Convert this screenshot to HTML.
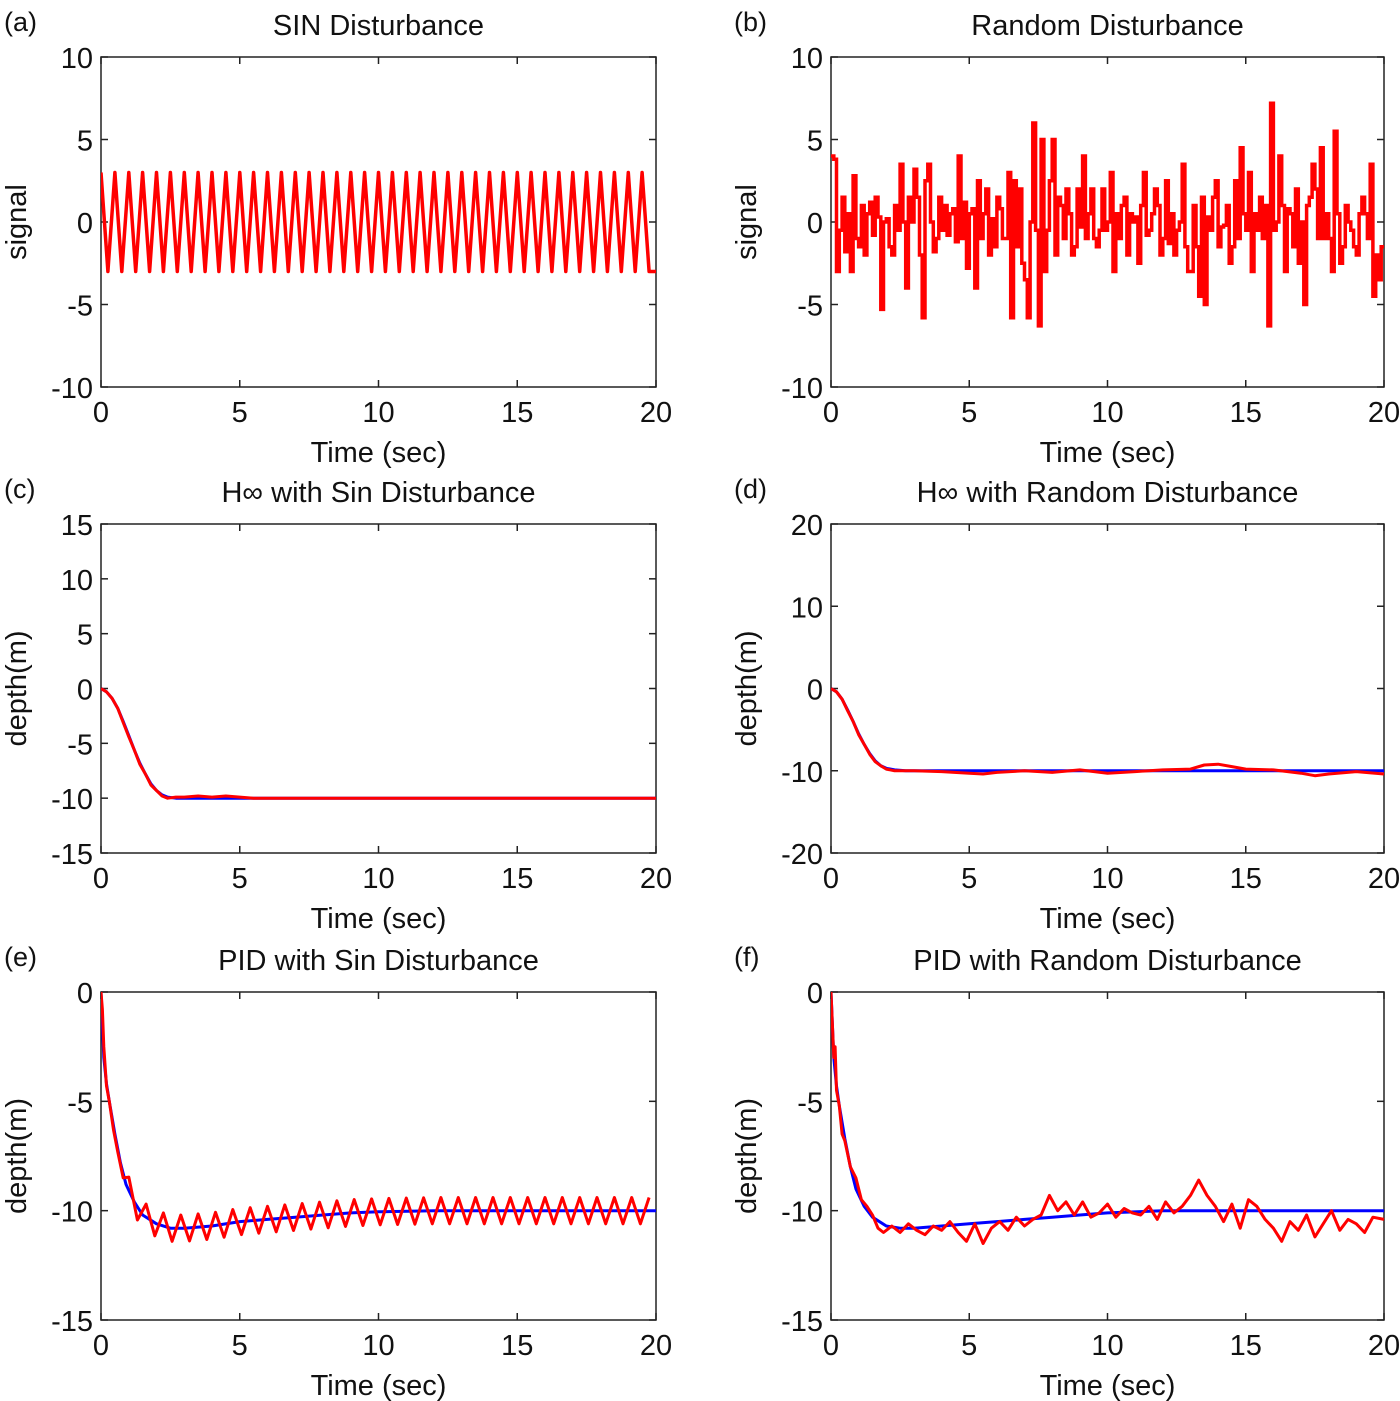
<!DOCTYPE html>
<html><head><meta charset="utf-8"><style>
html,body{margin:0;padding:0;background:#fff;}
svg{display:block;font-family:"Liberation Sans",Arial,sans-serif;}
</style></head><body>
<svg id="fig" width="1400" height="1401" viewBox="0 0 1400 1401"></svg>
<script>
// ---------- data ----------
const xTicks = [0,5,10,15,20];
const sinT = [0,0.25,0.5,0.75,1,1.25,1.5,1.75,2,2.25,2.5,2.75,3,3.25,3.5,3.75,4,4.25,4.5,4.75,5,5.25,5.5,5.75,6,6.25,6.5,6.75,7,7.25,7.5,7.75,8,8.25,8.5,8.75,9,9.25,9.5,9.75,10,10.25,10.5,10.75,11,11.25,11.5,11.75,12,12.25,12.5,12.75,13,13.25,13.5,13.75,14,14.25,14.5,14.75,15,15.25,15.5,15.75,16,16.25,16.5,16.75,17,17.25,17.5,17.75,18,18.25,18.5,18.75,19,19.25,19.5,19.75,20];
const sinV = [3,-3,3,-3,3,-3,3,-3,3,-3,3,-3,3,-3,3,-3,3,-3,3,-3,3,-3,3,-3,3,-3,3,-3,3,-3,3,-3,3,-3,3,-3,3,-3,3,-3,3,-3,3,-3,3,-3,3,-3,3,-3,3,-3,3,-3,3,-3,3,-3,3,-3,3,-3,3,-3,3,-3,3,-3,3,-3,3,-3,3,-3,3,-3,3,-3,3,-3,-3];
const randV = [
 4,3.8,-3,-0.5,1.5,-1.8,0.5,-3,2.8,-1,-1.5,1,-2,0.5,1.2,-0.8,1.5,0.3,-5.3,0,
 0.2,-1.5,-2,1,-0.5,3.5,0,-4,1.5,0,3.2,1.5,-2,-5.8,2.5,3.5,0,-1.8,-1,1.5,
 -0.5,1,-0.8,0.5,0.8,-1.2,4,-1,1.2,-2.8,0.5,0.8,-4,2.5,-1,0.5,2,-2,0.2,-1.5,
 1.5,0.8,-1,-1,3,-5.8,2.5,-1.5,2,-2.5,-3.5,-5.8,0,6,-0.5,-6.3,5,-3,-0.5,2.5,
 5,-2,1.5,1,-1,2,0.5,-2,-1.5,2,-0.3,4,-1,0.5,2,-1,-1.5,-0.5,2,-0.5,
 0,3,-3,0.5,-1,1,1.5,-2,0.5,0,0.3,-2.5,1,3,-0.8,-0.5,0.5,2,1,-2,
 -1,2.5,-1.3,0.5,-2,-0.5,0,3.5,-1.5,-3,-3,1,-1.5,-4.5,1.5,-5,0.3,-0.5,1.5,2.5,
 -1.5,-0.3,-0.2,1,-2.5,-1.5,2.5,-1,4.5,0.5,-0.5,3,-3,0.5,-0.5,1.5,-1,1,-6.3,7.2,
 -0.5,0,4,1,-3,0.8,0.5,-1.5,2,-2.5,0,-5,1,1.5,3.5,2,-1,4.5,-1,0.5,
 -1,-3,5.5,0.5,-2.5,-1.5,1,0,-0.5,-1.5,-2,0.5,1.5,0.5,-1,3.5,-4.5,-2,-3.5,-1.5
];
const hsT = [0,0.2,0.4,0.6,0.8,1.0,1.2,1.4,1.6,1.8,2.0,2.2,2.4,2.7,3,20];
const hsBlue = [0,-0.3,-0.9,-1.8,-3,-4.3,-5.6,-6.8,-7.8,-8.7,-9.3,-9.7,-9.9,-10,-10,-10];
const hsRedT = [0,0.2,0.4,0.6,0.8,1.0,1.2,1.4,1.6,1.8,2.0,2.2,2.4,2.7,3,3.5,4,4.5,5,5.5,20];
const hsRed = [0,-0.3,-0.9,-1.8,-3.1,-4.4,-5.6,-6.9,-7.8,-8.8,-9.3,-9.8,-10,-9.9,-9.9,-9.8,-9.9,-9.8,-9.9,-10,-10];
const hrT = [0,0.2,0.4,0.6,0.8,1.0,1.2,1.4,1.6,1.8,2.0,2.3,2.7,3,20];
const hrBlue = [0,-0.4,-1.3,-2.6,-4,-5.5,-6.8,-7.9,-8.8,-9.4,-9.7,-9.9,-10,-10,-10];
const hrRedT = [0,0.2,0.4,0.6,0.8,1.0,1.2,1.4,1.6,1.8,2.0,2.3,2.7,3,4,5,5.5,6,7,8,9,10,11,12,13,13.5,14,14.5,15,16,17,17.5,18,19,20];
const hrRed = [0,-0.4,-1.3,-2.7,-4,-5.6,-6.8,-8,-8.9,-9.4,-9.8,-10,-10,-10,-10.1,-10.3,-10.4,-10.2,-10,-10.2,-9.9,-10.3,-10.1,-9.9,-9.8,-9.3,-9.2,-9.5,-9.8,-9.9,-10.3,-10.6,-10.4,-10.1,-10.4];
const psT = [0,0.1,0.2,0.3,0.5,0.7,0.9,1.2,1.5,2,2.5,3,4,5,6,7,8,9,10,12,15,20];
const psBlue = [0,-3,-4.2,-5,-6.5,-7.8,-8.8,-9.6,-10.2,-10.6,-10.8,-10.8,-10.7,-10.5,-10.4,-10.3,-10.2,-10.1,-10.05,-10,-10,-10];
const psOsc = [0.6,-0.6,0.6,-0.6,0.6,-0.6,0.6,-0.6,0.6,-0.6,0.6,-0.6,0.6,-0.6,0.6,-0.6,0.6,-0.6,0.6,-0.6,0.6,-0.6,0.6,-0.6,0.6,-0.6,0.6,-0.6,0.6,-0.6,0.6,-0.6,0.6,-0.6,0.6,-0.6,0.6,-0.6,0.6,-0.6,0.6,-0.6,0.6,-0.6,0.6,-0.6,0.6,-0.6,0.6,-0.6,0.6,-0.6,0.6,-0.6,0.6,-0.6,0.6,-0.6,0.6,-0.6,0.6,-0.6,0.6,-0.6];
const prT = [0,0.1,0.2,0.3,0.5,0.7,0.9,1.2,1.5,2,2.5,3,4,5,6,7,8,9,10,12,15,20];
const prBlue = [0,-3,-4.3,-5.2,-6.7,-8,-9,-9.8,-10.3,-10.7,-10.8,-10.8,-10.7,-10.6,-10.5,-10.4,-10.3,-10.2,-10.1,-10,-10,-10];
const prRedT = [0,0.05,0.1,0.15,0.2,0.3,0.4,0.5,0.7,0.9,1.1,1.3,1.5,1.7,1.9,2.2,2.5,2.8,3.1,3.4,3.7,4,4.3,4.6,4.9,5.2,5.5,5.8,6.1,6.4,6.7,7,7.3,7.6,7.9,8.2,8.5,8.8,9.1,9.4,9.7,10,10.3,10.6,10.9,11.2,11.5,11.8,12.1,12.4,12.7,13,13.3,13.6,13.9,14.2,14.5,14.8,15.1,15.4,15.7,16,16.3,16.6,16.9,17.2,17.5,17.8,18.1,18.4,18.7,19,19.3,19.6,20];
const prRed = [0,-1.5,-3,-2.5,-4.5,-5.2,-6.5,-6.8,-8,-8.5,-9.5,-9.8,-10.2,-10.8,-11,-10.7,-11,-10.6,-10.9,-11.1,-10.7,-10.9,-10.5,-11,-11.4,-10.6,-11.5,-10.8,-10.5,-10.9,-10.3,-10.7,-10.4,-10.2,-9.3,-10,-9.6,-10.2,-9.6,-10.3,-10.1,-9.7,-10.3,-9.9,-10.1,-10.2,-9.8,-10.4,-9.6,-10.1,-9.8,-9.3,-8.6,-9.3,-9.8,-10.5,-9.7,-10.8,-9.5,-9.8,-10.4,-10.8,-11.4,-10.5,-10.9,-10.2,-11.2,-10.6,-10,-10.9,-10.4,-10.6,-11,-10.3,-10.4];

// ---------- drawing ----------
const NS = "http://www.w3.org/2000/svg";
const fig = document.getElementById('fig');
function el(tag, attrs, parent){ const e=document.createElementNS(NS,tag); for(const k in attrs) e.setAttribute(k,attrs[k]); (parent||fig).appendChild(e); return e; }

function makeAxes(id, x0, x1, y0, y1, ymin, ymax, yTicks, title, ylabel, letter, lx){
  const g = el('g',{});
  
  
  const sx = v => x0 + (v-0)/(20-0)*(x1-x0);
  const sy = v => y1 - (v-ymin)/(ymax-ymin)*(y1-y0);
  const frame = el('rect',{x:x0,y:y0,width:x1-x0,height:y1-y0,fill:'#fff',stroke:'#222','stroke-width':1.5},g);
  
  
  xTicks.forEach(t=>{
    const X=sx(t);
    el('line',{x1:X,x2:X,y1:y1,y2:y1-7,stroke:'#222','stroke-width':1.5},g);
    el('line',{x1:X,x2:X,y1:y0,y2:y0+7,stroke:'#222','stroke-width':1.5},g);
    const tx=el('text',{x:X,y:y1+35,'font-size':29,'text-anchor':'middle',fill:'#111'},g);
    tx.textContent=t;
    
    
  });
  yTicks.forEach(t=>{
    const Y=sy(t);
    el('line',{x1:x0,x2:x0+7,y1:Y,y2:Y,stroke:'#222','stroke-width':1.5},g);
    el('line',{x1:x1,x2:x1-7,y1:Y,y2:Y,stroke:'#222','stroke-width':1.5},g);
    const tx=el('text',{x:x0-8,y:Y+11,'font-size':29,'text-anchor':'end',fill:'#111'},g);
    tx.textContent=t;
    
    
  });
  const tt=el('text',{x:(x0+x1)/2,y:y0-22,'font-size':29,'text-anchor':'middle',fill:'#111'},g);
  tt.textContent=title;
  
  
  const xl=el('text',{x:(x0+x1)/2,y:y1+75,'font-size':29,'text-anchor':'middle',fill:'#111'},g);
  xl.textContent='Time (sec)';
  
  
  const yl=el('text',{x:0,y:0,'font-size':29,'text-anchor':'middle',fill:'#111',transform:`translate(${x0-75},${(y0+y1)/2}) rotate(-90)`},g);
  yl.textContent=ylabel;
  
  
  const lt=el('text',{x:lx,y:y0-26,'font-size':27,fill:'#111'},g);
  lt.textContent=letter;
  
  
  const clipId='clip-'+id;
  const cp=el('clipPath',{id:clipId},g); el('rect',{x:x0,y:y0-2,width:x1-x0+2,height:y1-y0+4},cp);
  const plot=el('g',{'clip-path':`url(#${clipId})`},g);
  return {sx,sy,plot};
}
function line(ax, ts, vs, color, w, name){
  const pts = ts.map((t,i)=>ax.sx(t).toFixed(1)+','+ax.sy(vs[i]).toFixed(1)).join(' ');
  const p = el('polyline',{points:pts,fill:'none',stroke:color,'stroke-width':w,'stroke-linejoin':'round'},ax.plot);
  
  
}
function stairs(ax, vs, dt, color, w, name){
  const pts=[];
  vs.forEach((v,i)=>{ pts.push(ax.sx(i*dt).toFixed(1)+','+ax.sy(v).toFixed(1)); pts.push(ax.sx((i+1)*dt).toFixed(1)+','+ax.sy(v).toFixed(1)); });
  const p = el('polyline',{points:pts.join(' '),fill:'none',stroke:color,'stroke-width':w},ax.plot);
  
  
}
function interp(ts, vs, t){ for(let i=1;i<ts.length;i++){ if(t<=ts[i]){ const f=(t-ts[i-1])/(ts[i]-ts[i-1]); return vs[i-1]+f*(vs[i]-vs[i-1]); } } return vs[vs.length-1]; }

const L0=101,L1=656,R0=831,R1=1384;
// (a)
const a = makeAxes('a',L0,L1,57,387,-10,10,[10,5,0,-5,-10],'SIN Disturbance','signal','(a)',4);
line(a, sinT, sinV, '#f00', 3.5, 'sin-disturbance-line');
// (b)
const b = makeAxes('b',R0,R1,57,387,-10,10,[10,5,0,-5,-10],'Random Disturbance','signal','(b)',734);
stairs(b, randV, 0.1, '#f00', 3.5, 'random-disturbance-line');
// (c)
const c = makeAxes('c',L0,L1,524,853,-15,15,[15,10,5,0,-5,-10,-15],'H\u221e with Sin Disturbance','depth(m)','(c)',4);
line(c, hsT, hsBlue, '#00f', 3, 'reference-line');
line(c, hsRedT, hsRed, '#f00', 3, 'depth-response-line');
// (d)
const d = makeAxes('d',R0,R1,524,853,-20,20,[20,10,0,-10,-20],'H\u221e with Random Disturbance','depth(m)','(d)',734);
line(d, hrT, hrBlue, '#00f', 3, 'reference-line');
line(d, hrRedT, hrRed, '#f00', 3, 'depth-response-line');
// (e)
const e = makeAxes('e',L0,L1,992,1320,-15,0,[0,-5,-10,-15],'PID with Sin Disturbance','depth(m)','(e)',4);
line(e, psT, psBlue, '#00f', 3, 'reference-line');
const peT=[0,0.05,0.1,0.2,0.3,0.45,0.6,0.8], peV=[0,-0.8,-2.5,-4.3,-5,-6.3,-7.3,-8.5];
const peStart=1.0, peStep=0.3125;
psOsc.forEach((o,i)=>{ const t=peStart+i*peStep; if(t<=20){ peT.push(t); peV.push(interp(psT,psBlue,t)+o); } });
line(e, peT, peV, '#f00', 3, 'depth-response-line');
// (f)
const f = makeAxes('f',R0,R1,992,1320,-15,0,[0,-5,-10,-15],'PID with Random Disturbance','depth(m)','(f)',734);
line(f, prT, prBlue, '#00f', 3, 'reference-line');
line(f, prRedT, prRed, '#f00', 3, 'depth-response-line');
</script>
</body></html>
